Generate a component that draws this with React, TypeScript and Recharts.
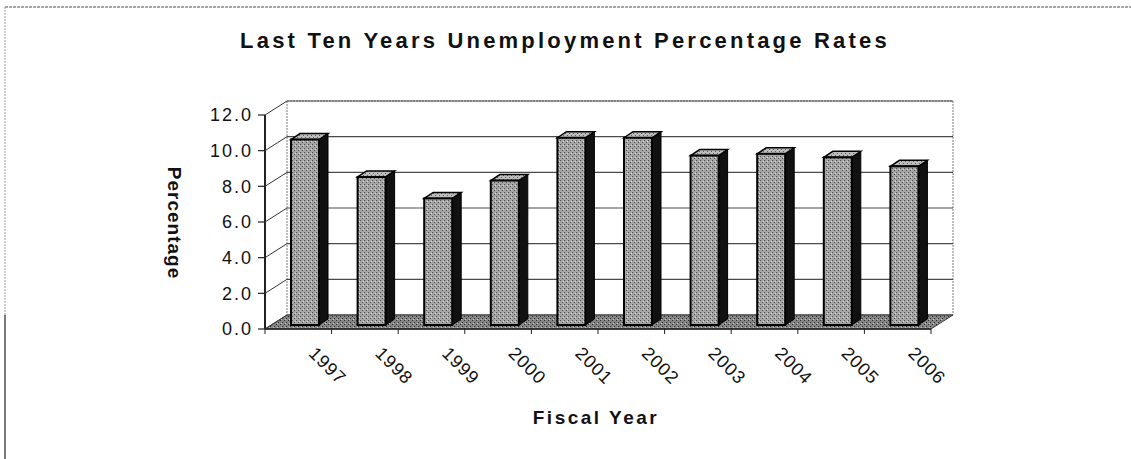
import React from 'react';
import { BarChart, Bar, XAxis, YAxis, CartesianGrid } from 'recharts';

const years = ['1997', '1998', '1999', '2000', '2001', '2002', '2003', '2004', '2005', '2006'];
const rates = [10.4, 8.3, 7.1, 8.1, 10.5, 10.5, 9.5, 9.6, 9.4, 8.9];
const yTicks = [0, 2, 4, 6, 8, 10, 12];

const data = years.map((year, i) => ({ year, rate: rates[i] }));

const W = 1131;
const H = 459;
const PLOT_LEFT = 265;
const PLOT_RIGHT = 931;
const BAND = (PLOT_RIGHT - PLOT_LEFT) / years.length;
// offset of the back wall (fake 3d depth)
const DX = 22;
const DY = -14;
const FONT = '"Liberation Sans", Arial, sans-serif';

const Walls = (props: any) => {
  const { x1, y1, x2, key, index, x, y, width, height } = props;
  return (
    <g key={key}>
      {index === 0 && (
        <g>
          <rect x={x + DX} y={y + DY} width={width} height={height} fill="#fff" stroke="#7a7a7a" strokeWidth={1} strokeDasharray="2 1" />
          <polygon
            points={`${x},${y + height} ${x + width},${y + height} ${x + width + DX},${y + height + DY} ${x + DX},${y + height + DY}`}
            fill="url(#floorTex)"
            stroke="#444"
            strokeWidth={1}
          />
        </g>
      )}
      <line x1={x1 + DX} y1={y1 + DY} x2={x2 + DX} y2={y1 + DY} stroke="#4a4a4a" strokeWidth={1.2} />
    </g>
  );
};

const YTick = (props: any) => {
  const { x, y, payload } = props;
  return (
    <g>
      <line x1={x - 7} y1={y} x2={x} y2={y} stroke="#222" strokeWidth={1.2} />
      <line x1={x} y1={y} x2={x + DX} y2={y + DY} stroke="#333" strokeWidth={1} />
      <text x={x - 12} y={y} dy="0.36em" textAnchor="end" fontFamily={FONT} fontSize={18} letterSpacing={2} fill="#111">
        {Number(payload.value).toFixed(1)}
      </text>
    </g>
  );
};

const XTick = (props: any) => {
  const { x, y, payload, index } = props;
  const half = BAND / 2;
  return (
    <g>
      <line x1={x - half} y1={y} x2={x - half} y2={y + 5} stroke="#222" />
      {index === years.length - 1 && <line x1={x + half} y1={y} x2={x + half} y2={y + 5} stroke="#222" />}
      <text transform={`translate(${x + 25},${y + 41}) rotate(45)`} textAnchor="middle" fontFamily={FONT} fontSize={18} letterSpacing={1} fill="#111">
        {payload.value}
      </text>
    </g>
  );
};

const Bar3D = (props: any) => {
  const { x, y, width, height } = props;
  const fx = x + 7;
  const fy = y - 4;
  const bottom = fy + height;
  const right = fx + width;
  const d = 9;
  const e = -6;
  return (
    <g>
      <polygon points={`${right},${fy} ${right + d},${fy + e} ${right + d},${bottom + e} ${right},${bottom}`} fill="#111" stroke="#000" strokeWidth={1} />
      <polygon points={`${fx},${fy} ${fx + d},${fy + e} ${right + d},${fy + e} ${right},${fy}`} fill="url(#topTex)" stroke="#000" strokeWidth={1.5} />
      <rect x={fx} y={fy} width={width} height={height} fill="url(#faceTex)" stroke="#000" strokeWidth={2} />
    </g>
  );
};

export default function App() {
  return (
    <div style={{ position: 'absolute', left: 0, top: 0, width: W, height: H, background: '#fff', fontFamily: FONT }}>
      <svg width={0} height={0} style={{ position: 'absolute' }}>
        <defs>
          <pattern id="faceTex" patternUnits="userSpaceOnUse" width={4} height={4}>
            <rect width={4} height={4} fill="#a6a6a6" />
            <rect x={0} y={0} width={1} height={1} fill="#4a4a4a" />
            <rect x={2} y={2} width={1} height={1} fill="#4a4a4a" />
            <rect x={3} y={1} width={1} height={1} fill="#dcdcdc" />
          </pattern>
          <pattern id="topTex" patternUnits="userSpaceOnUse" width={4} height={4}>
            <rect width={4} height={4} fill="#bdbdbd" />
            <rect x={1} y={1} width={1} height={1} fill="#5a5a5a" />
            <rect x={3} y={3} width={1} height={1} fill="#5a5a5a" />
          </pattern>
          <pattern id="floorTex" patternUnits="userSpaceOnUse" width={4} height={4}>
            <rect width={4} height={4} fill="#868686" />
            <rect x={0} y={0} width={1} height={1} fill="#2a2a2a" />
            <rect x={2} y={2} width={1} height={1} fill="#2a2a2a" />
            <rect x={1} y={3} width={1} height={1} fill="#c8c8c8" />
          </pattern>
        </defs>
      </svg>

      <BarChart width={W} height={H} data={data} margin={{ top: 115, right: W - PLOT_RIGHT, bottom: 70, left: PLOT_LEFT - 60 }}>
        <CartesianGrid vertical={false} horizontal={Walls} />
        <XAxis
          dataKey="year"
          height={60}
          tickSize={0}
          tickMargin={0}
          tick={<XTick />}
          axisLine={{ stroke: '#222', strokeWidth: 1.5 }}
          interval={0}
        />
        <YAxis
          width={60}
          domain={[0, 12]}
          ticks={yTicks}
          tickSize={0}
          tickMargin={0}
          tick={<YTick />}
          axisLine={{ stroke: '#222', strokeWidth: 2 }}
          interval={0}
        />
        <Bar dataKey="rate" barSize={28} shape={<Bar3D />} isAnimationActive={false} />
      </BarChart>

      <svg width={W} height={H} style={{ position: 'absolute', left: 0, top: 0, pointerEvents: 'none' }}>
        <line x1={5} y1={7} x2={W} y2={7} stroke="#8a8a8a" strokeWidth={1.5} strokeDasharray="3 1" />
        <line x1={5} y1={7} x2={5} y2={315} stroke="#9a9a9a" strokeWidth={1} strokeDasharray="2 1" />
        <line x1={5} y1={315} x2={5} y2={H} stroke="#222" strokeWidth={1.2} />
        <text x={565} y={48} textAnchor="middle" fontFamily={FONT} fontSize={22} fontWeight="bold" letterSpacing={3.2} fill="#111">
          Last Ten Years Unemployment Percentage Rates
        </text>
        <text transform="translate(168,223) rotate(90)" textAnchor="middle" fontFamily={FONT} fontSize={19} fontWeight="bold" letterSpacing={1} fill="#111">
          Percentage
        </text>
        <text x={596} y={424} textAnchor="middle" fontFamily={FONT} fontSize={19} fontWeight="bold" letterSpacing={2.5} fill="#111">
          Fiscal Year
        </text>
      </svg>
    </div>
  );
}
